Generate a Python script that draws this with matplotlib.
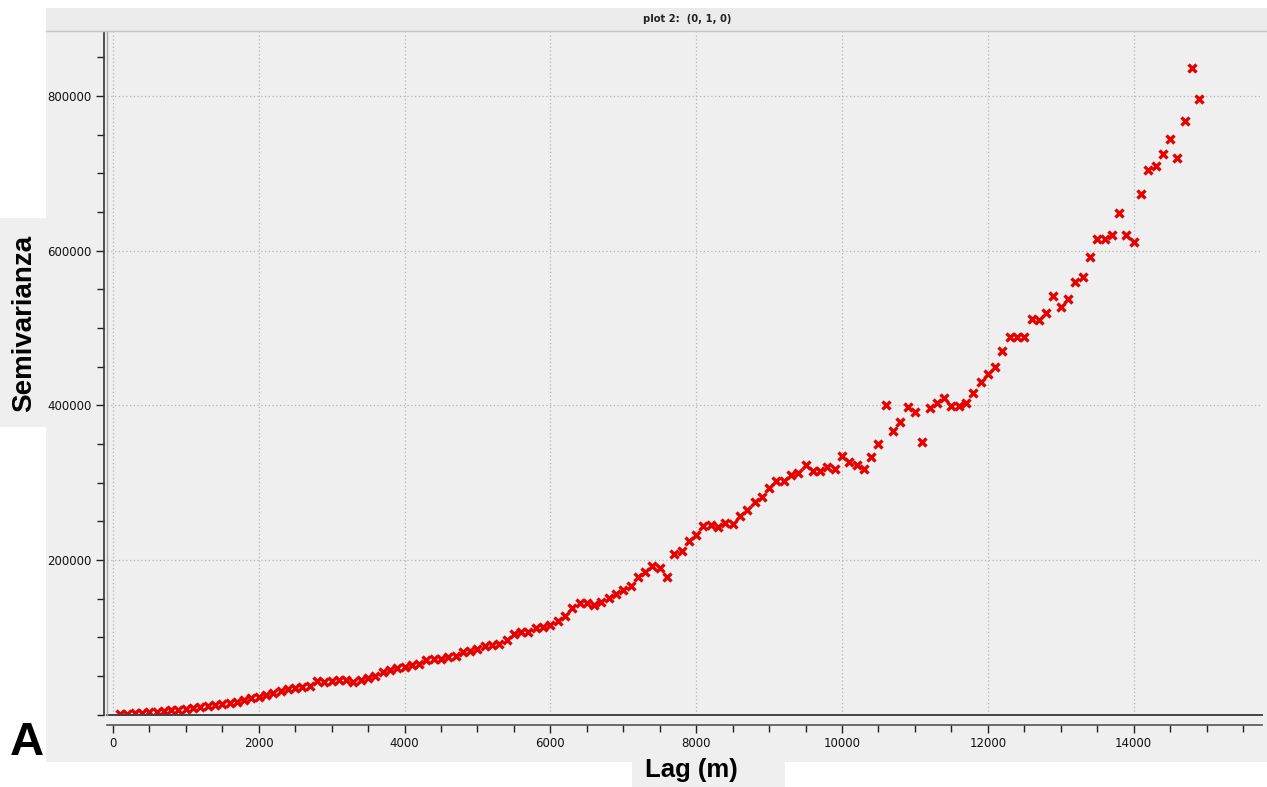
import matplotlib.pyplot as plt
from matplotlib.patches import Rectangle
from matplotlib.ticker import MultipleLocator

# semivariogram values
lag_m = [
    100, 200, 300, 400, 500, 600, 700, 800, 900, 1000,
    1100, 1200, 1300, 1400, 1500, 1600, 1700, 1800, 1900, 2000,
    2100, 2200, 2300, 2400, 2500, 2600, 2700, 2800, 2900, 3000,
    3100, 3200, 3300, 3400, 3500, 3600, 3700, 3800, 3900, 4000,
    4100, 4200, 4300, 4400, 4500, 4600, 4700, 4800, 4900, 5000,
    5100, 5200, 5300, 5400, 5500, 5600, 5700, 5800, 5900, 6000,
    6100, 6200, 6300, 6400, 6500, 6600, 6700, 6800, 6900, 7000,
    7100, 7200, 7300, 7400, 7500, 7600, 7700, 7800, 7900, 8000,
    8100, 8200, 8300, 8400, 8500, 8600, 8700, 8800, 8900, 9000,
    9100, 9200, 9300, 9400, 9500, 9600, 9700, 9800, 9900, 10000,
    10100, 10200, 10300, 10400, 10500, 10600, 10700, 10800, 10900, 11000,
    11100, 11200, 11300, 11400, 11500, 11600, 11700, 11800, 11900, 12000,
    12100, 12200, 12300, 12400, 12500, 12600, 12700, 12800, 12900, 13000,
    13100, 13200, 13300, 13400, 13500, 13600, 13700, 13800, 13900, 14000,
    14100, 14200, 14300, 14400, 14500, 14600, 14700, 14800, 14900,
]
semivar = [
    1000, 1500, 2000, 2500, 3000, 3800, 4600, 5500, 6500, 7500,
    8800, 10200, 11500, 13000, 14200, 15500, 17000, 18800, 21000, 23300,
    25500, 28400, 31000, 32800, 34000, 35400, 37000, 44000, 42700, 43600,
    44900, 44900, 42700, 44900, 47000, 50000, 55600, 57800, 60000, 62000,
    64000, 65500, 70700, 71600, 71600, 74000, 76000, 81000, 82000, 85000,
    88500, 90000, 91000, 97000, 104000, 107000, 107500, 112000, 113500, 116000,
    121000, 128000, 137500, 144000, 144000, 142000, 146000, 151000, 156000, 161000,
    166000, 177600, 185000, 192600, 189000, 177600, 207800, 212000, 225000, 232700,
    244000, 245000, 242700, 248000, 247000, 257000, 264600, 274600, 281000, 292700,
    302500, 302000, 310000, 312900, 322800, 315500, 315500, 319800, 317300, 334500,
    327000, 322800, 317300, 332800, 350000, 400000, 367000, 378800, 398000, 391700,
    353000, 397000, 402600, 409800, 399000, 399000, 402600, 415500, 430500, 440000,
    450000, 470000, 488700, 488700, 488700, 511600, 510000, 519000, 541700, 527500,
    538000, 559000, 565500, 592000, 614600, 614600, 620000, 649000, 620000, 611500,
    673000, 704000, 710000, 724500, 744000, 720000, 768000, 835700, 796000,
]

W, H = 1267, 787
bg = '#efefef'

fig = plt.figure(figsize=(W / 100, H / 100), dpi=100, facecolor='white')


def px_rect(x0, y0, x1, y1, **kw):
    # rectangle given in image pixels (origin top-left)
    r = Rectangle((x0 / W, 1 - y1 / H), (x1 - x0) / W, (y1 - y0) / H,
                  transform=fig.transFigure, **kw)
    fig.add_artist(r)
    return r


# grey panels behind the chart and labels
px_rect(46, 8, W, 762, facecolor=bg, edgecolor='none', zorder=0)
px_rect(0, 218, 46, 427, facecolor=bg, edgecolor='none', zorder=0)
px_rect(632, 757, 785, 787, facecolor=bg, edgecolor='none', zorder=0)
px_rect(46, 8, W, 31, facecolor='#ebebeb', edgecolor='none', zorder=0)
fig.add_artist(plt.Line2D([46 / W, 1], [1 - 31 / H, 1 - 31 / H],
                          transform=fig.transFigure, color='#c4c4c4', lw=1))

ax = fig.add_axes([107 / W, 1 - 715 / H, (1262 - 107) / W, (715 - 32) / H])
ax.set_facecolor(bg)

ax.plot(lag_m, semivar, linestyle='none', marker='x', color='#e60000',
        markersize=6.3, markeredgewidth=2.4, zorder=3)

ax.set_xlim(-80, 15760)
ax.set_ylim(-400, 882600)

ax.xaxis.set_major_locator(MultipleLocator(2000))
ax.xaxis.set_minor_locator(MultipleLocator(500))
ax.set_yticks([200000, 400000, 600000, 800000])
ax.yaxis.set_minor_locator(MultipleLocator(50000))

ax.grid(True, which='major', color='#b4b4b4', linestyle=(0, (1, 2)), lw=0.9)

for s in ['top', 'right']:
    ax.spines[s].set_visible(False)
ax.spines['bottom'].set_position(('outward', 7))
ax.spines['left'].set_position(('outward', 2))
ax.spines['bottom'].set_color('#555555')
ax.spines['left'].set_color('#333333')
ax.spines['bottom'].set_linewidth(1.2)
ax.spines['left'].set_linewidth(1.2)
# frame line along the bottom of the plot area
ax.plot([0, 1], [0, 0], transform=ax.transAxes, color='#444444', lw=1.4,
        clip_on=False, zorder=4)
ax.plot([0, 0], [0, 1], transform=ax.transAxes, color='#aaaaaa', lw=1.0,
        clip_on=False, zorder=4)

ax.tick_params(which='major', direction='out', length=6, width=1,
               color='#222222', labelsize=8.5, labelcolor='#111111', pad=3)
ax.tick_params(axis='x', which='major', pad=2.5)
ax.tick_params(which='minor', direction='out', length=5, width=1,
               color='#222222')

fig.text(687 / W, 1 - 19 / H, 'plot 2:  (0, 1, 0)', ha='center', va='center',
         fontsize=7.2, fontweight='bold', color='#222222')
fig.text(24 / W, 1 - 323 / H, 'Semivarianza', rotation=90, ha='center',
         va='center', fontsize=20, fontweight='bold',
         family='Liberation Sans')
fig.text(691 / W, 1 - 770 / H, 'Lag (m)', ha='center', va='center',
         fontsize=18.5, fontweight='bold', family='Liberation Sans')
fig.text(27 / W, 1 - 743 / H, 'A', ha='center', va='center', fontsize=34,
         fontweight='bold', family='Liberation Sans')

fig.savefig('out.png', dpi=100, facecolor='white')
